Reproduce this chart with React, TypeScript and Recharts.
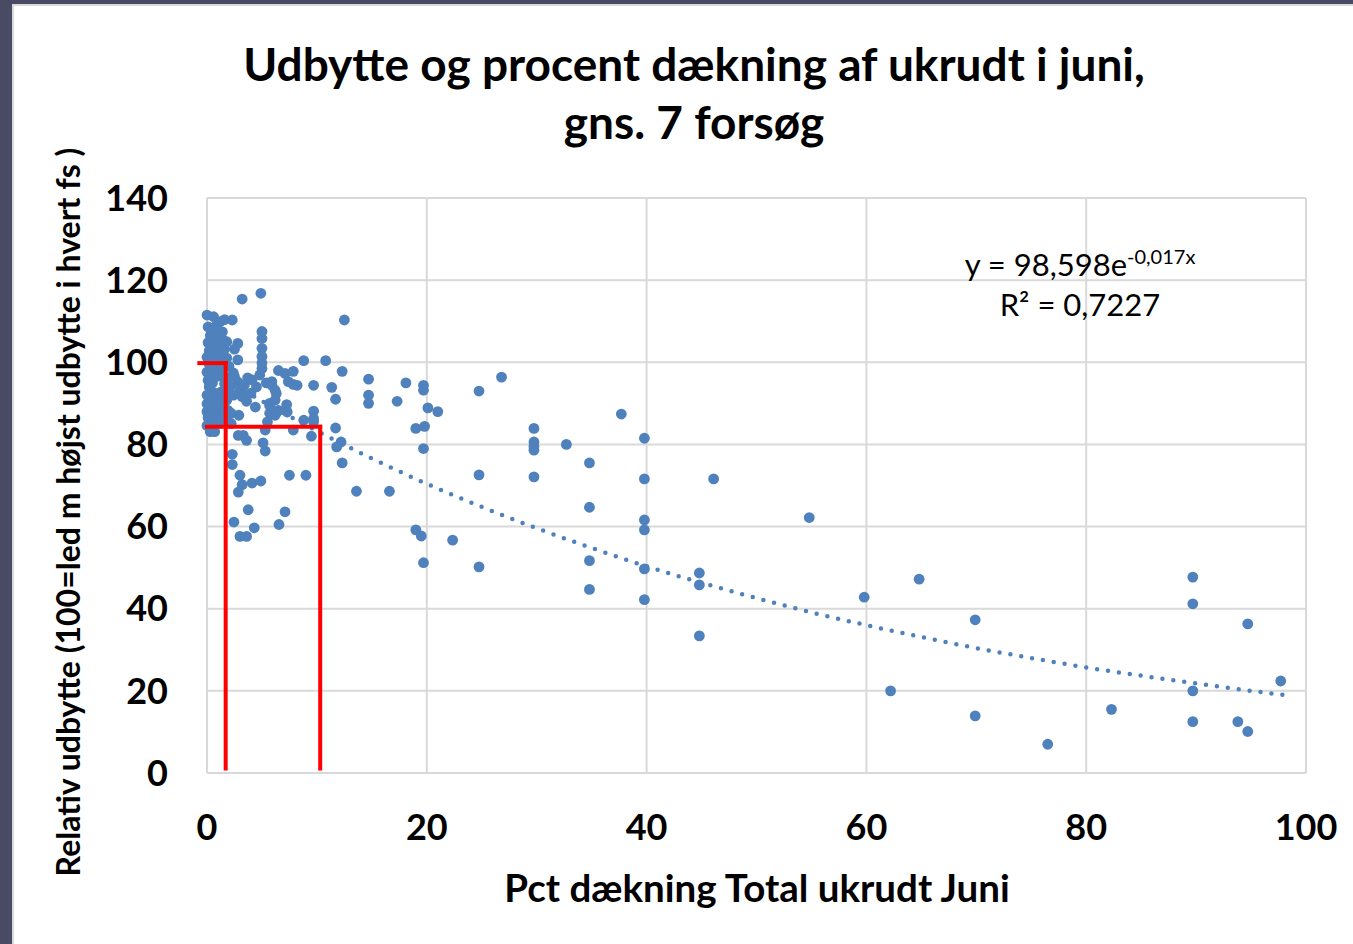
import { CartesianGrid, ReferenceLine, Scatter, ScatterChart, XAxis, YAxis } from 'recharts'

// tæt klynge ved 0-2 % dækning
const clusterPoints: [number, number][] = [
  [0, 111.5], [0.6, 111.1], [1.2, 109.9], [1.6, 110.4], [2.3, 110.3],
  [0.1, 108.6], [0.5, 107.8], [0.3, 106.5], [0.9, 106.2], [1.4, 105.6], [1.8, 105], [0.1, 104.8],
  [0.6, 104.3], [1.1, 103.8], [1.6, 103.2], [0.2, 102.8], [0.8, 102.3], [1.3, 101.8], [0, 101.2],
  [0.5, 100.8], [1.0, 100.4], [1.5, 99.9], [0.2, 99.5], [0.7, 98.8], [1.2, 98.2], [0, 97.6],
  [0.4, 97], [0.9, 96.6], [1.5, 96.3], [0.1, 95.6], [0.5, 95], [1.6, 94.8], [0.2, 94], [0.4, 93],
  [1.3, 92.8], [0.8, 92.4], [0, 92], [0.4, 91.3], [1.2, 91.1], [0.7, 90.4], [0, 89.9], [1.5, 89.6],
  [0.3, 89], [0.9, 88.6], [0, 88], [0.5, 87.4], [1.3, 87.2], [0.1, 86.5], [0.8, 86], [1.7, 85.8],
  [0.3, 85.2], [0, 84.6], [0.3, 83.1], [0.7, 83.1], [1.8, 90.8], [1.9, 88.3], [2.2, 85.1], [2.0, 99],
  [0.8, 108.8], [1.4, 107.4], [0.4, 103.6], [1.2, 105], [0.9, 100], [1.8, 101], [0.6, 97.8],
  [1.1, 97.2], [1.9, 96.2], [0.3, 90.2], [1.0, 89.8], [1.6, 92.6], [0.6, 88.2], [1.2, 85.2],
  [0.5, 84.6], [1.8, 87.4], [0.2, 96.8], [1.4, 102.6],
]

const nearPoints: [number, number][] = [
  [3.2, 115.4], [4.9, 116.8], [2.8, 104.6], [2.8, 100.6], [2.5, 103.2],
  [5.0, 107.5], [5.0, 105.8], [5.0, 103.4], [5.0, 101.4], [5.0, 99.8], [5.0, 98.5],
  [2.4, 97.4], [2.8, 95.2], [3.7, 96.2], [4.8, 96.9], [4.5, 94], [5.4, 95], [6.2, 93.2], [6.5, 98],
  [3.2, 91.6], [4.4, 89.1], [5.7, 90], [6.5, 88.3], [6.2, 87.1], [5.5, 85.5],
  [2.5, 96.5], [2.1, 94.1], [3.0, 93.3], [2.4, 92], [2.9, 87.1], [2.2, 87.6], [3.4, 94.5],
  [4.1, 95.7], [3.6, 90.5], [4.0, 92.5],
  [7.1, 97.3], [7.85, 97.8], [5.9, 95.3], [5.9, 94.4], [7.4, 95.3], [8.2, 94.4], [7.85, 94.6],
  [6.3, 92.4], [6.2, 90.8], [7.25, 89.7], [7.3, 87.9], [5.7, 89.5], [5.7, 87.6], [6.3, 87.8],
  [2.85, 82.2], [3.3, 82.2], [3.6, 81], [5.3, 83.5], [7.85, 83.5], [5.1, 80.4], [5.3, 78.4],
  [2.3, 77.6], [2.3, 75.1], [3.0, 72.5], [7.5, 72.5], [3.2, 70.2], [2.85, 68.4], [4.1, 70.6],
  [4.9, 71.1], [3.75, 64.1], [7.1, 63.6], [2.45, 61.1], [4.3, 59.7], [6.55, 60.5], [3.0, 57.6],
  [3.6, 57.6],
]

const midPoints: [number, number][] = [
  [8.8, 100.4], [10.8, 100.4], [12.3, 97.8], [12.5, 110.3], [9.7, 94.4], [11.35, 93.9], [11.7, 91],
  [8.8, 85.9], [9.7, 88.1], [9.7, 86.3], [9.7, 85.5], [9.5, 82], [11.7, 84], [12.2, 80.6],
  [11.8, 79.4], [12.3, 75.5], [9.0, 72.5], [13.6, 68.6], [16.6, 68.6], [14.7, 95.9], [18.1, 95],
  [19.7, 94.4], [19.7, 93.2], [14.7, 92], [14.7, 90], [17.3, 90.5], [20.1, 88.9], [21.0, 88],
  [19.0, 83.9], [19.8, 84.4], [19.7, 79], [19.0, 59.2], [19.5, 57.7], [22.35, 56.7], [19.7, 51.2],
  [24.75, 93], [26.8, 96.4], [24.75, 72.6], [24.75, 50.2], [29.75, 83.9], [29.75, 80.6],
  [29.75, 79.5], [29.75, 78.6], [29.75, 72.1],
]

const farPoints: [number, number][] = [
  [32.7, 80], [34.8, 75.5], [34.8, 64.7], [34.8, 51.7], [34.8, 44.7], [37.7, 87.4], [39.8, 81.5],
  [39.8, 71.6], [39.8, 61.6], [39.8, 59.2], [39.8, 49.7], [39.8, 42.2], [44.8, 48.7], [44.8, 45.8],
  [44.8, 33.4], [46.1, 71.6], [54.8, 62.2], [59.8, 42.8], [62.2, 20], [64.8, 47.2], [69.9, 37.3],
  [69.9, 13.9], [76.5, 7.0], [82.3, 15.5], [89.7, 47.7], [89.7, 41.2], [89.7, 20], [89.7, 12.5],
  [93.8, 12.5], [94.7, 36.3], [94.7, 10.1], [97.7, 22.4],
]

// eksponentiel tendenslinje, aflæst
const trendX = [0, 5, 10, 15, 20, 25, 30, 35, 40, 45, 50, 55, 60, 65, 70, 75, 80, 85, 90, 95, 98]
const trendY = [98.6, 90.6, 83.3, 76.6, 70.4, 64.8, 59.6, 54.8, 50.3, 46.3, 42.6, 39.1, 36.0, 33.1, 30.4, 28.0, 25.7, 23.7, 21.8, 20.0, 19.0]

// røde hjælpelinjer
const redLow: [number, number][] = [[-0.7, 99.8], [1.7, 99.8], [1.7, 1.1]]
const redHigh: [number, number][] = [[0, 84.3], [10.3, 84.3], [10.3, 1.1]]

const xTicks = [0, 20, 40, 60, 80, 100]
const yTicks = [0, 20, 40, 60, 80, 100, 120, 140]

const BLUE = '#4f81bd'
const GRID = '#d9d9d9'
const FONT = 'Lato, "Open Sans", sans-serif'

const toPts = (arr: [number, number][]) => arr.map(([x, y]) => ({ x, y }))
const points = toPts([...clusterPoints, ...nearPoints, ...midPoints, ...farPoints])
const trend = trendX.map((x, i) => ({ x, y: trendY[i] }))

const segs = (arr: [number, number][]) =>
  arr.slice(1).map((p, i) => [
    { x: arr[i][0], y: arr[i][1] },
    { x: p[0], y: p[1] },
  ])
const redSegments = [...segs(redLow), ...segs(redHigh)]

const tickStyle = { fill: '#000', fontSize: 36, fontWeight: 700, fontFamily: FONT }

export default function App() {
  return (
    <div style={{ position: 'absolute', left: 0, top: 0, width: 1353, height: 944, background: '#494a64', overflow: 'hidden' }}>
      <div
        style={{
          position: 'absolute', left: 12, top: 4, width: 1341, height: 940,
          background: '#fff', borderLeft: `2px solid ${GRID}`, borderTop: `2px solid ${GRID}`, boxSizing: 'border-box',
        }}
      />
      <div style={{ position: 'absolute', left: 0, top: 0 }}>
        <ScatterChart width={1353} height={944} margin={{ top: 198, right: 47, bottom: 111, left: 107 }}>
          <CartesianGrid stroke={GRID} strokeWidth={2} />
          <XAxis
            type="number" dataKey="x" domain={[0, 100]} ticks={xTicks} height={60}
            axisLine={false} tickLine={false} tickSize={0} tickMargin={41} tick={tickStyle}
          />
          <YAxis
            type="number" dataKey="y" domain={[0, 140]} ticks={yTicks} width={100}
            axisLine={false} tickLine={false} tickSize={0} tickMargin={39} tick={tickStyle}
          />
          <Scatter data={points} fill={BLUE} isAnimationActive={false} shape={(p: any) => <circle cx={p.cx} cy={p.cy} r={5.4} fill={BLUE} />} />
          <Scatter
            data={trend} isAnimationActive={false} lineJointType="monotoneX"
            line={{ stroke: BLUE, strokeWidth: 4.5, strokeDasharray: '0 11', strokeLinecap: 'round' }}
            shape={() => <g />}
          />
          {redSegments.map((s, i) => (
            <ReferenceLine
              key={i} segment={s} stroke="#ff0000" strokeWidth={4} strokeLinecap="square"
              ifOverflow="visible" zIndex={1000}
            />
          ))}
        </ScatterChart>
      </div>
      <div style={{ position: 'absolute', left: 194, top: 35, width: 1000, textAlign: 'center', fontFamily: FONT, fontWeight: 700, fontSize: 46, lineHeight: '58px', color: '#000' }}>
        Udbytte og procent dækning af ukrudt i juni,
        <br />
        gns. 7 forsøg
      </div>
      <div style={{ position: 'absolute', left: 880, top: 246, width: 400, textAlign: 'center', fontFamily: FONT, fontSize: 31, lineHeight: '36px', color: '#000' }}>
        y = 98,598e<span style={{ fontSize: 20, position: 'relative', top: -12 }}>-0,017x</span>
        <br />
        R² = 0,7227
      </div>
      <div style={{ position: 'absolute', left: 407, top: 864, width: 700, textAlign: 'center', fontFamily: FONT, fontWeight: 700, fontSize: 38.5, lineHeight: '46px', color: '#000' }}>
        Pct dækning Total ukrudt Juni
      </div>
      <div
        style={{
          position: 'absolute', left: 68 - 450, top: 512 - 22, width: 900, height: 44, lineHeight: '44px',
          textAlign: 'center', transform: 'rotate(-90deg)', fontFamily: FONT, fontWeight: 700, fontSize: 32, color: '#000',
        }}
      >
        Relativ udbytte (100=led m højst udbytte i hvert fs )
      </div>
    </div>
  )
}
